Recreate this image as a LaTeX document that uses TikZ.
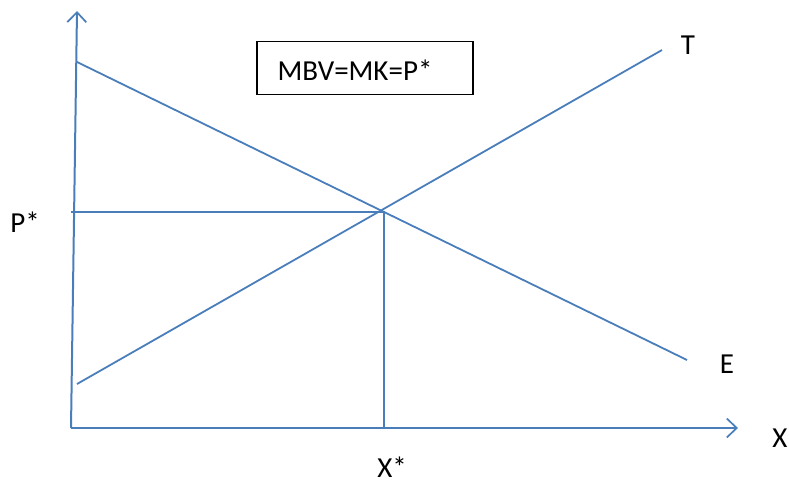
\documentclass[tikz,border=0pt]{standalone}
\usepackage{fontspec}
\setmainfont{Carlito}
\usetikzlibrary{arrows.meta}
\definecolor{lineblue}{HTML}{4A7EBB}
\begin{document}
\begin{tikzpicture}[x=1pt,y=-1pt,
  curve/.style={draw=lineblue,line width=1.8pt},
  axis/.style={draw=lineblue,line width=2pt,-{Straight Barb[length=10pt,width=19pt,line width=1.7pt]}},
  lbl/.style={font=\fontsize{29}{34}\selectfont,inner sep=0pt}]
\useasboundingbox (0,0) rectangle (789,484);
\coordinate (O) at (71,428);
\coordinate (Ytop) at (77,11);
\coordinate (Xend) at (738,428);
\coordinate (E1) at (77,62);
\coordinate (E2) at (687,360);
\coordinate (T1) at (77,384);
\coordinate (T2) at (662,50);
\coordinate (Q) at (384,212);
\coordinate (Py) at (71,212);
\coordinate (Qx) at (384,428);
\draw[axis] (O) -- (Ytop);
\draw[axis] (O) -- (Xend);
\draw[curve] (E1) -- (E2);
\draw[curve] (T1) -- (T2);
\draw[curve] (Py) -- (Q) -- (Qx);
\node[draw=black,line width=1.1pt,minimum width=216pt,minimum height=53pt,inner sep=0pt] (box) at (365,68) {};
\node[lbl] (boxtext) at (355,70) {MBV=MK=P*};
\node[lbl] (lT) at (688,45) {T};
\node[lbl] (lE) at (727,364) {E};
\node[lbl] (lX) at (780,438) {X};
\node[lbl] (lXs) at (392,467) {X*};
\node[lbl] (lPs) at (25,222) {P*};
\end{tikzpicture}
\end{document}
